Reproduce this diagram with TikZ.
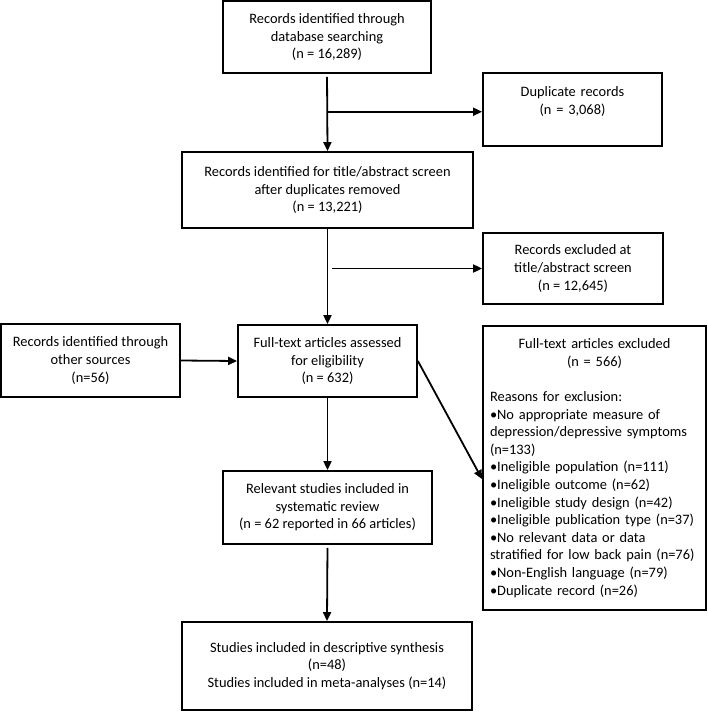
\documentclass[tikz,border=0pt]{standalone}
\usepackage{fontspec}
\setmainfont{Carlito}
\usetikzlibrary{arrows.meta,calc}
\tikzset{
  box/.style={draw, line width=1.8pt, align=center, font=\fontsize{14.4pt}{17.6pt}\selectfont},
  arr/.style={line width=1.8pt, -{Triangle[length=9pt,width=8pt]}}
}
\begin{document}
\begin{tikzpicture}[x=1pt, y=-1pt]
\useasboundingbox (0,0) rectangle (708,712);
% main column
\node[box, minimum width=208pt, minimum height=72pt] at (327,37) (db){Records identified through\\database searching\\(n = 16,289)};
\node[box, minimum width=291pt, minimum height=76pt] at (327.5,190) (screen){Records identified for title/abstract screen\\after duplicates removed\\(n = 13,221)};
\node[box, minimum width=179pt, minimum height=72pt] at (327.5,361) (full){Full-text articles assessed\\for eligibility\\(n = 632)};
\node[box, minimum width=209pt, minimum height=73pt] at (327.5,507.5) (incl){Relevant studies included in\\systematic review\\(n = 62 reported in 66 articles)};
\node[box, minimum width=290pt, minimum height=88pt] at (327,666) (final){Studies included in descriptive synthesis\\(n=48)\\Studies included in meta-analyses (n=14)};
% side boxes
\node[box, anchor=north, text width=165pt, inner xsep=7pt, inner ysep=4pt, text height=20pt, text depth=45pt] at (572.5,72) (dup){Duplicate records\\(n = 3,068)};
\node[box, minimum width=180pt, minimum height=71pt] at (573,268.5) (excl){Records excluded at\\title/abstract screen\\(n = 12,645)};
\node[box, minimum width=179pt, minimum height=73pt] at (90.5,360.5) (other){Records identified through\\other sources\\(n=56)};
\node[box, align=left, text width=209pt, inner xsep=7pt, minimum height=284pt] at (594.5,468) (ftex){{\centering Full-text articles excluded\\(n = 566)\par}\vspace{17.6pt}Reasons for exclusion:\\•No appropriate measure of\\depression/depressive symptoms\\(n=133)\\•Ineligible population (n=111)\\•Ineligible outcome (n=62)\\•Ineligible study design (n=42)\\•Ineligible publication type (n=37)\\•No relevant data or data\\stratified for low back pain (n=76)\\•Non-English language (n=79)\\•Duplicate record (n=26)};
% junctions
\coordinate (j1) at ($(db.south)!0.49!(screen.north)$);
\coordinate (j2) at (screen.south |- excl.west);
\coordinate (ftin) at ($(ftex.north west)+(0,154)$);
% arrows
\draw[arr, shorten <=3pt] (db.south) -- (screen.north);
\draw[arr] (j1) -- (j1 -| dup.west);
\draw[arr] (screen.south) -- (full.north);
\draw[arr, shorten <=4pt] (j2) -- (excl.west);
\draw[arr] (other.east) -- (full.west);
\draw[arr] (full.east) -- (ftin); % diagonal
\draw[arr] (full.south) -- (incl.north);
\draw[arr, shorten <=3pt] (incl.south) -- (final.north);
\end{tikzpicture}
\end{document}
